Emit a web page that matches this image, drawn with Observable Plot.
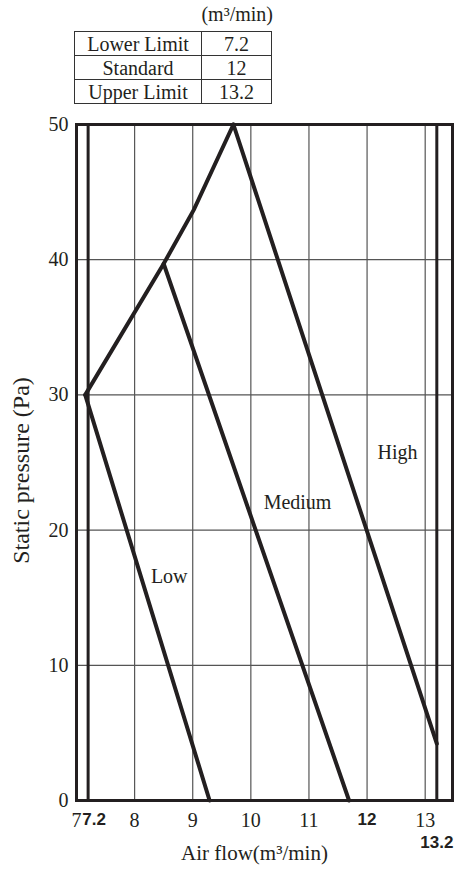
<!DOCTYPE html>
<html>
<head>
<meta charset="utf-8">
<script src="https://cdn.jsdelivr.net/npm/d3@7"></script>
<script src="https://cdn.jsdelivr.net/npm/@observablehq/plot@0.6"></script>
<style>
  html, body { margin: 0; padding: 0; background: #fff; }
  #wrap { width: 454px; height: 874px; position: relative; overflow: hidden; }
  #head { position: relative; width: 454px; height: 110px; font-family: "Liberation Serif", "Times New Roman", serif; color: #231f20; }
  #unit { position: absolute; right: 181px; top: 2px; font-size: 20px; line-height: 24px; }
  #tbl { position: absolute; left: 74px; top: 31px; border-collapse: collapse; font-size: 20px; font-family: inherit; }
  #tbl td { border: 1.5px solid #333; height: 23px; padding: 0; text-align: center; line-height: 22px; font-family: inherit; }
  #tbl td.k { width: 126px; }
  #tbl td.v { width: 69px; }
  svg { display: block; }
</style>
</head>
<body>
<div id="wrap">
  <div id="head"><div id="unit"></div><table id="tbl"></table></div>
  <div id="chart"></div>
</div>
<script>
// ---- data ----
const tableLabels = ["Lower Limit", "Standard", "Upper Limit"];
const tableValues = [7.2, 12, 13.2];
const tableUnit = "(m³/min)";

const airflowTicks = [7, 8, 9, 10, 11, 13];
const boldTicksRow1 = [7.2, 12];
const boldTicksRow2 = [13.2];
const gridX = [8, 9, 10, 11, 12, 13];
const limitLines = [7.2, 13.2];
const pressureTicks = [0, 10, 20, 30, 40, 50];
const gridY = [10, 20, 30, 40];

const lowFlow = [9.29, 7.15];
const lowPressure = [0, 30];
const envelopeFlow = [7.15, 8.5, 9.02, 9.7];
const envelopePressure = [30, 39.7, 43.7, 50];
const mediumFlow = [8.5, 11.69];
const mediumPressure = [39.7, 0];
const highFlow = [9.7, 13.2];
const highPressure = [50, 4.2];

const seriesNames = ["Low", "Medium", "High"];
const seriesLabelFlow = [8.28, 10.22, 12.18];
const seriesLabelPressure = [16.55, 22.0, 25.7];

const xLabel = "Air flow(m³/min)";
const yLabel = "Static pressure (Pa)";

// ---- table ----
const tbl = document.getElementById("tbl");
tableLabels.forEach((l, i) => {
  const tr = document.createElement("tr");
  const a = document.createElement("td"); a.className = "k"; a.textContent = l;
  const b = document.createElement("td"); b.className = "v"; b.textContent = String(tableValues[i]);
  tr.appendChild(a); tr.appendChild(b); tbl.appendChild(tr);
});
document.getElementById("unit").textContent = tableUnit;

// ---- rows ----
const rows = [];
const add = (name, xs, ys) => xs.forEach((x, i) => rows.push({series: name, flow: x, pressure: ys[i]}));
add("Low", lowFlow, lowPressure);
add("Envelope", envelopeFlow, envelopePressure);
add("Medium", mediumFlow, mediumPressure);
add("High", highFlow, highPressure);

const labels = seriesNames.map((n, i) => ({name: n, flow: seriesLabelFlow[i], pressure: seriesLabelPressure[i]}));

const ink = "#231f20";
const serif = "'Liberation Serif', 'Times New Roman', serif";
const sans = "'Liberation Sans', Arial, sans-serif";
const fmt = d => String(d);

const chart = Plot.plot({
  width: 454,
  height: 764,
  marginTop: 14,
  marginBottom: 74,
  marginLeft: 76,
  marginRight: 2,
  style: {fontFamily: serif, fontSize: "20px", color: ink, background: "#fff"},
  x: {domain: [7, 13.47]},
  y: {domain: [0, 50]},
  marks: [
    Plot.ruleX(gridX, {stroke: "#555", strokeWidth: 1.2}),
    Plot.ruleY(gridY, {stroke: "#555", strokeWidth: 1.2}),
    Plot.ruleX(limitLines, {stroke: ink, strokeWidth: 3}),
    Plot.frame({stroke: ink, strokeWidth: 3}),
    Plot.line(rows, {x: "flow", y: "pressure", z: "series", stroke: ink, strokeWidth: 4, strokeLinejoin: "miter", strokeMiterlimit: 10}),
    Plot.text(labels, {x: "flow", y: "pressure", text: "name", textAnchor: "start", fontFamily: serif, fontSize: 20, fill: ink}),
    Plot.axisX(airflowTicks, {tickSize: 0, tickPadding: 12, label: null, tickFormat: fmt, fontFamily: serif, fontSize: 20, fill: ink}),
    Plot.axisX([boldTicksRow1[0]], {tickSize: 0, tickPadding: 12, label: null, tickFormat: fmt, fontFamily: sans, fontWeight: "bold", fontSize: 17, dx: 6, fill: ink}),
    Plot.axisX(boldTicksRow1.slice(1), {tickSize: 0, tickPadding: 12, label: null, tickFormat: fmt, fontFamily: sans, fontWeight: "bold", fontSize: 17, fill: ink}),
    Plot.axisX(boldTicksRow2, {tickSize: 0, tickPadding: 35, label: null, tickFormat: fmt, fontFamily: sans, fontWeight: "bold", fontSize: 17, fill: ink}),
    Plot.axisY(pressureTicks, {tickSize: 0, tickPadding: 8, label: null, tickFormat: fmt, fontFamily: serif, fontSize: 20, fill: ink}),
    Plot.text([xLabel], {frameAnchor: "bottom", dy: 59, dx: -10, fontFamily: serif, fontSize: 21, fill: ink}),
    Plot.text([yLabel], {frameAnchor: "left", textAnchor: "middle", rotate: -90, dx: -55, dy: 8, fontFamily: serif, fontSize: 24, fill: ink})
  ]
});
document.getElementById("chart").appendChild(chart);
</script>
</body>
</html>
